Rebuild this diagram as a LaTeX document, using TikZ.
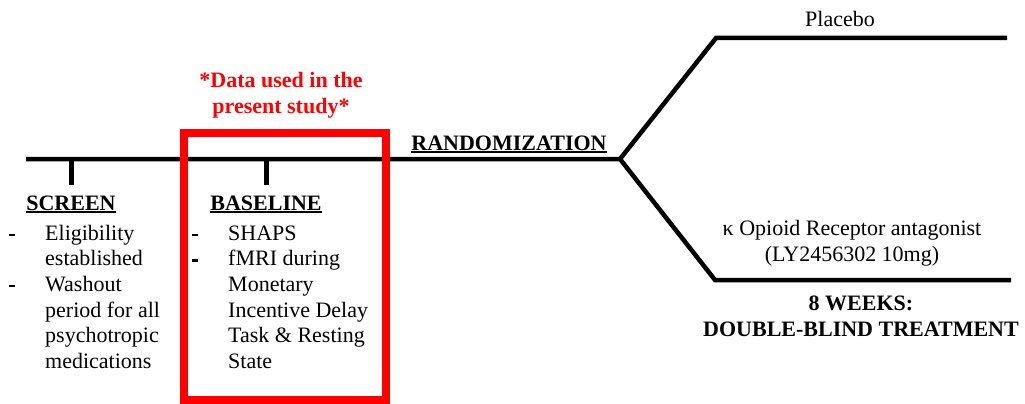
\documentclass[tikz,border=0pt]{standalone}
\usepackage{fontspec}
\setmainfont{Liberation Serif}
\usetikzlibrary{positioning}

% bold heading with a heavy underline
\newcommand{\ulhead}[1]{\setbox0\hbox{#1}\rlap{\rule[-3pt]{\wd0}{1.8pt}}\box0}
% list dash
\newcommand{\itemdash}{\rule[4pt]{6pt}{2.4pt}}

\tikzset{
    every node/.style={font=\fontsize{22}{26}\selectfont, inner sep=0pt},
    armline/.style={line width=4.5pt, line join=miter},
    tickline/.style={line width=5pt},
    studybox/.style={draw=red, line width=8pt},
    headtext/.style={font=\fontsize{22}{26}\selectfont\bfseries, anchor=base},
    listtext/.style={font=\fontsize{22}{25.7}\selectfont, anchor=base west},
}

\begin{document}
\begin{tikzpicture}[x=1pt, y=-1pt]
    \useasboundingbox (0,0) rectangle (1025,404);

    % Timeline and the two treatment arms
    \coordinate (start)  at (26,159);
    \coordinate (split)  at (620,159);
    \coordinate (plaTop) at (716,38);
    \coordinate (plaEnd) at (1007,38);
    \coordinate (actTop) at (715,280);
    \coordinate (actEnd) at (1011,280);
    \draw[armline] (start) -- (split) -- (plaTop) -- (plaEnd);
    \draw[armline] (split) -- (actTop) -- (actEnd);

    % Phase headings
    \node[headtext] (screen)   at (71,210)  {\ulhead{SCREEN}};
    \node[headtext] (baseline) at (266,210) {\ulhead{BASELINE}};
    \node[headtext] (random)   at (509,150) {\ulhead{RANDOMIZATION}};

    \draw[tickline] (screen.north |- start) -- ([yshift=10pt]screen.north);
    \draw[tickline] (baseline.north |- start) -- ([yshift=10pt]baseline.north);

    % Study window
    \draw[studybox] (183.5,133) rectangle (385.5,400);
    \node[headtext, text=red] (datanote) at (281,87)
        {\begin{tabular}[t]{@{}c@{}}*Data used in the\\present study*\end{tabular}};

    % Visit contents
    \node[listtext] (screenlist) at (9,240)
        {\begin{tabular}[t]{@{}p{36pt}@{}l@{}}
        \itemdash & Eligibility\\
                  & established\\
        \itemdash & Washout\\
                  & period for all\\
                  & psychotropic\\
                  & medications
        \end{tabular}};
    \node[listtext] (baselist) at (192,240)
        {\begin{tabular}[t]{@{}p{36pt}@{}l@{}}
        \itemdash & SHAPS\\
        \itemdash & fMRI during\\
                  & Monetary\\
                  & Incentive Delay\\
                  & Task \& Resting\\
                  & State
        \end{tabular}};

    % Arms
    \node[anchor=base] (placebo) at (840,27) {Placebo};
    \node[anchor=base] (drug) at (852,235)
        {\begin{tabular}[t]{@{}c@{}}κ Opioid Receptor antagonist\\(LY2456302 10mg)\end{tabular}};
    \node[headtext] (duration) at (861,310)
        {\begin{tabular}[t]{@{}c@{}}8 WEEKS:\\DOUBLE-BLIND TREATMENT\end{tabular}};
\end{tikzpicture}
\end{document}
